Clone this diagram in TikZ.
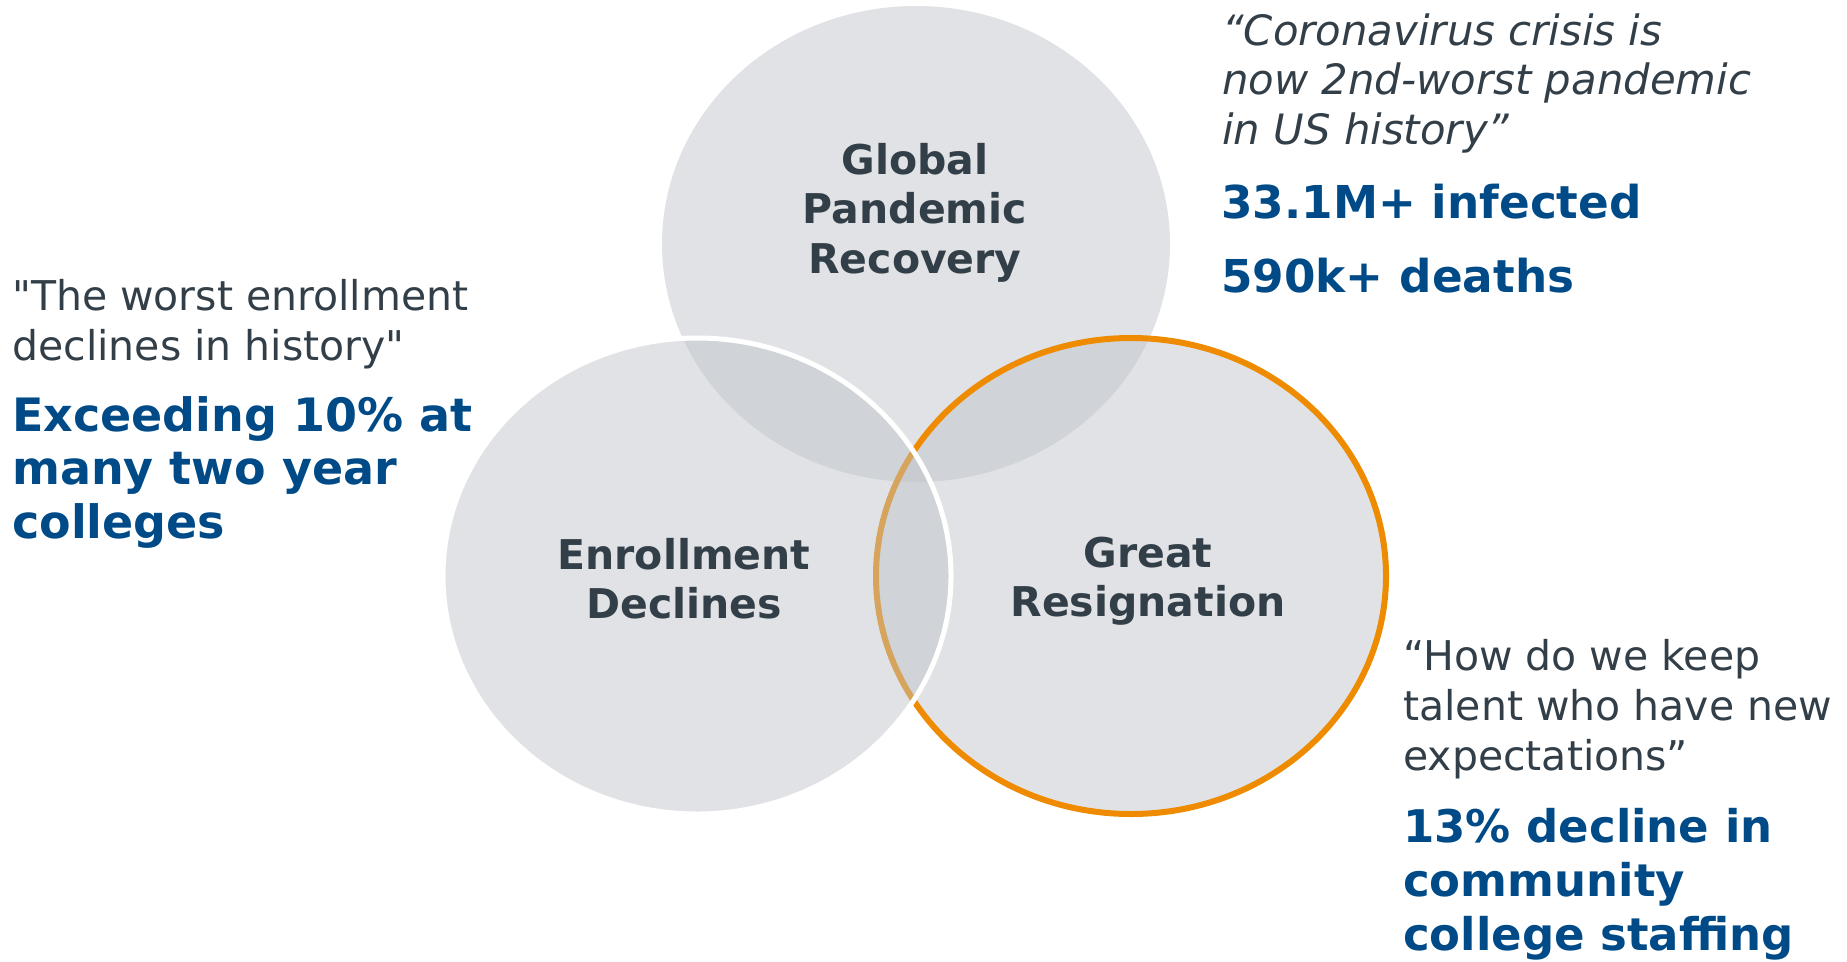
\documentclass[tikz,border=0pt]{standalone}
\usepackage{fontspec}
\setmainfont{DejaVu Sans}
% stacked lines whose baseline is the first line
\newcommand\leftlines[1]{\vtop{\halign{##\hfil\cr#1\crcr}}}
\newcommand\centerlines[1]{\vtop{\halign{\hfil##\hfil\cr#1\crcr}}}
\definecolor{textdark}{RGB}{51,63,72}
\definecolor{accentblue}{RGB}{0,75,135}
\definecolor{ringorange}{RGB}{239,139,0}
\definecolor{venngray}{RGB}{190,194,199}
\begin{document}
\begin{tikzpicture}[x=1pt,y=-1pt,
  venn/.style={fill=venngray, fill opacity=0.47},
  venntitle/.style={anchor=base, inner sep=0pt, text=textdark,
    font=\fontsize{41}{49.5}\selectfont\bfseries},
  quote/.style={anchor=base west, inner sep=0pt, text=textdark,
    font=\fontsize{41}{50}\selectfont},
  figure/.style={anchor=base west, inner sep=0pt, text=accentblue,
    font=\fontsize{45}{54}\selectfont\bfseries}]
\useasboundingbox (0,0) rectangle (1847,961);

% the three sets, back to front
\path[venn] (916,244) ellipse [x radius=254pt, y radius=238pt];
\path[venn, draw=ringorange, line width=6pt] (1131,576) ellipse [x radius=255pt, y radius=238pt];
\path[venn, draw=white, line width=5pt] (697,576) ellipse [x radius=254pt, y radius=238pt];

% set titles
\node[venntitle] (pandemic) at (915,174) {\centerlines{Global\cr Pandemic\cr Recovery}};
\node[venntitle] (enrollment) at (684,569) {\centerlines{Enrollment\cr Declines}};
\node[venntitle] (resignation) at (1148,567) {\centerlines{Great\cr Resignation}};

% enrollment callout
\node[quote] (enrquote) at (12,310)
  {\leftlines{\textquotedbl The worst enrollment\cr declines in history\textquotedbl}};
\node[figure, font=\fontsize{46}{53.5}\selectfont\bfseries] (enrfig) at (12,431)
  {\leftlines{Exceeding 10\% at\cr many two year\cr colleges}};

% pandemic callout
\node[quote, font=\fontsize{41.8}{50}\selectfont\itshape] (pandquote) at (1222,45)
  {\leftlines{“Coronavirus crisis is\cr now 2nd-worst pandemic\cr in US history”}};
\node[figure, font=\fontsize{45.3}{74}\selectfont\bfseries] (pandfig) at (1221,218)
  {\leftlines{33.1M+ infected\cr 590k+ deaths}};

% resignation callout
\node[quote] (resquote) at (1403,670)
  {\leftlines{“How do we keep\cr talent who have new\cr expectations”}};
\node[figure] (resfig) at (1403,842)
  {\leftlines{13\% decline in\cr community\cr college staffing}};
\end{tikzpicture}
\end{document}
